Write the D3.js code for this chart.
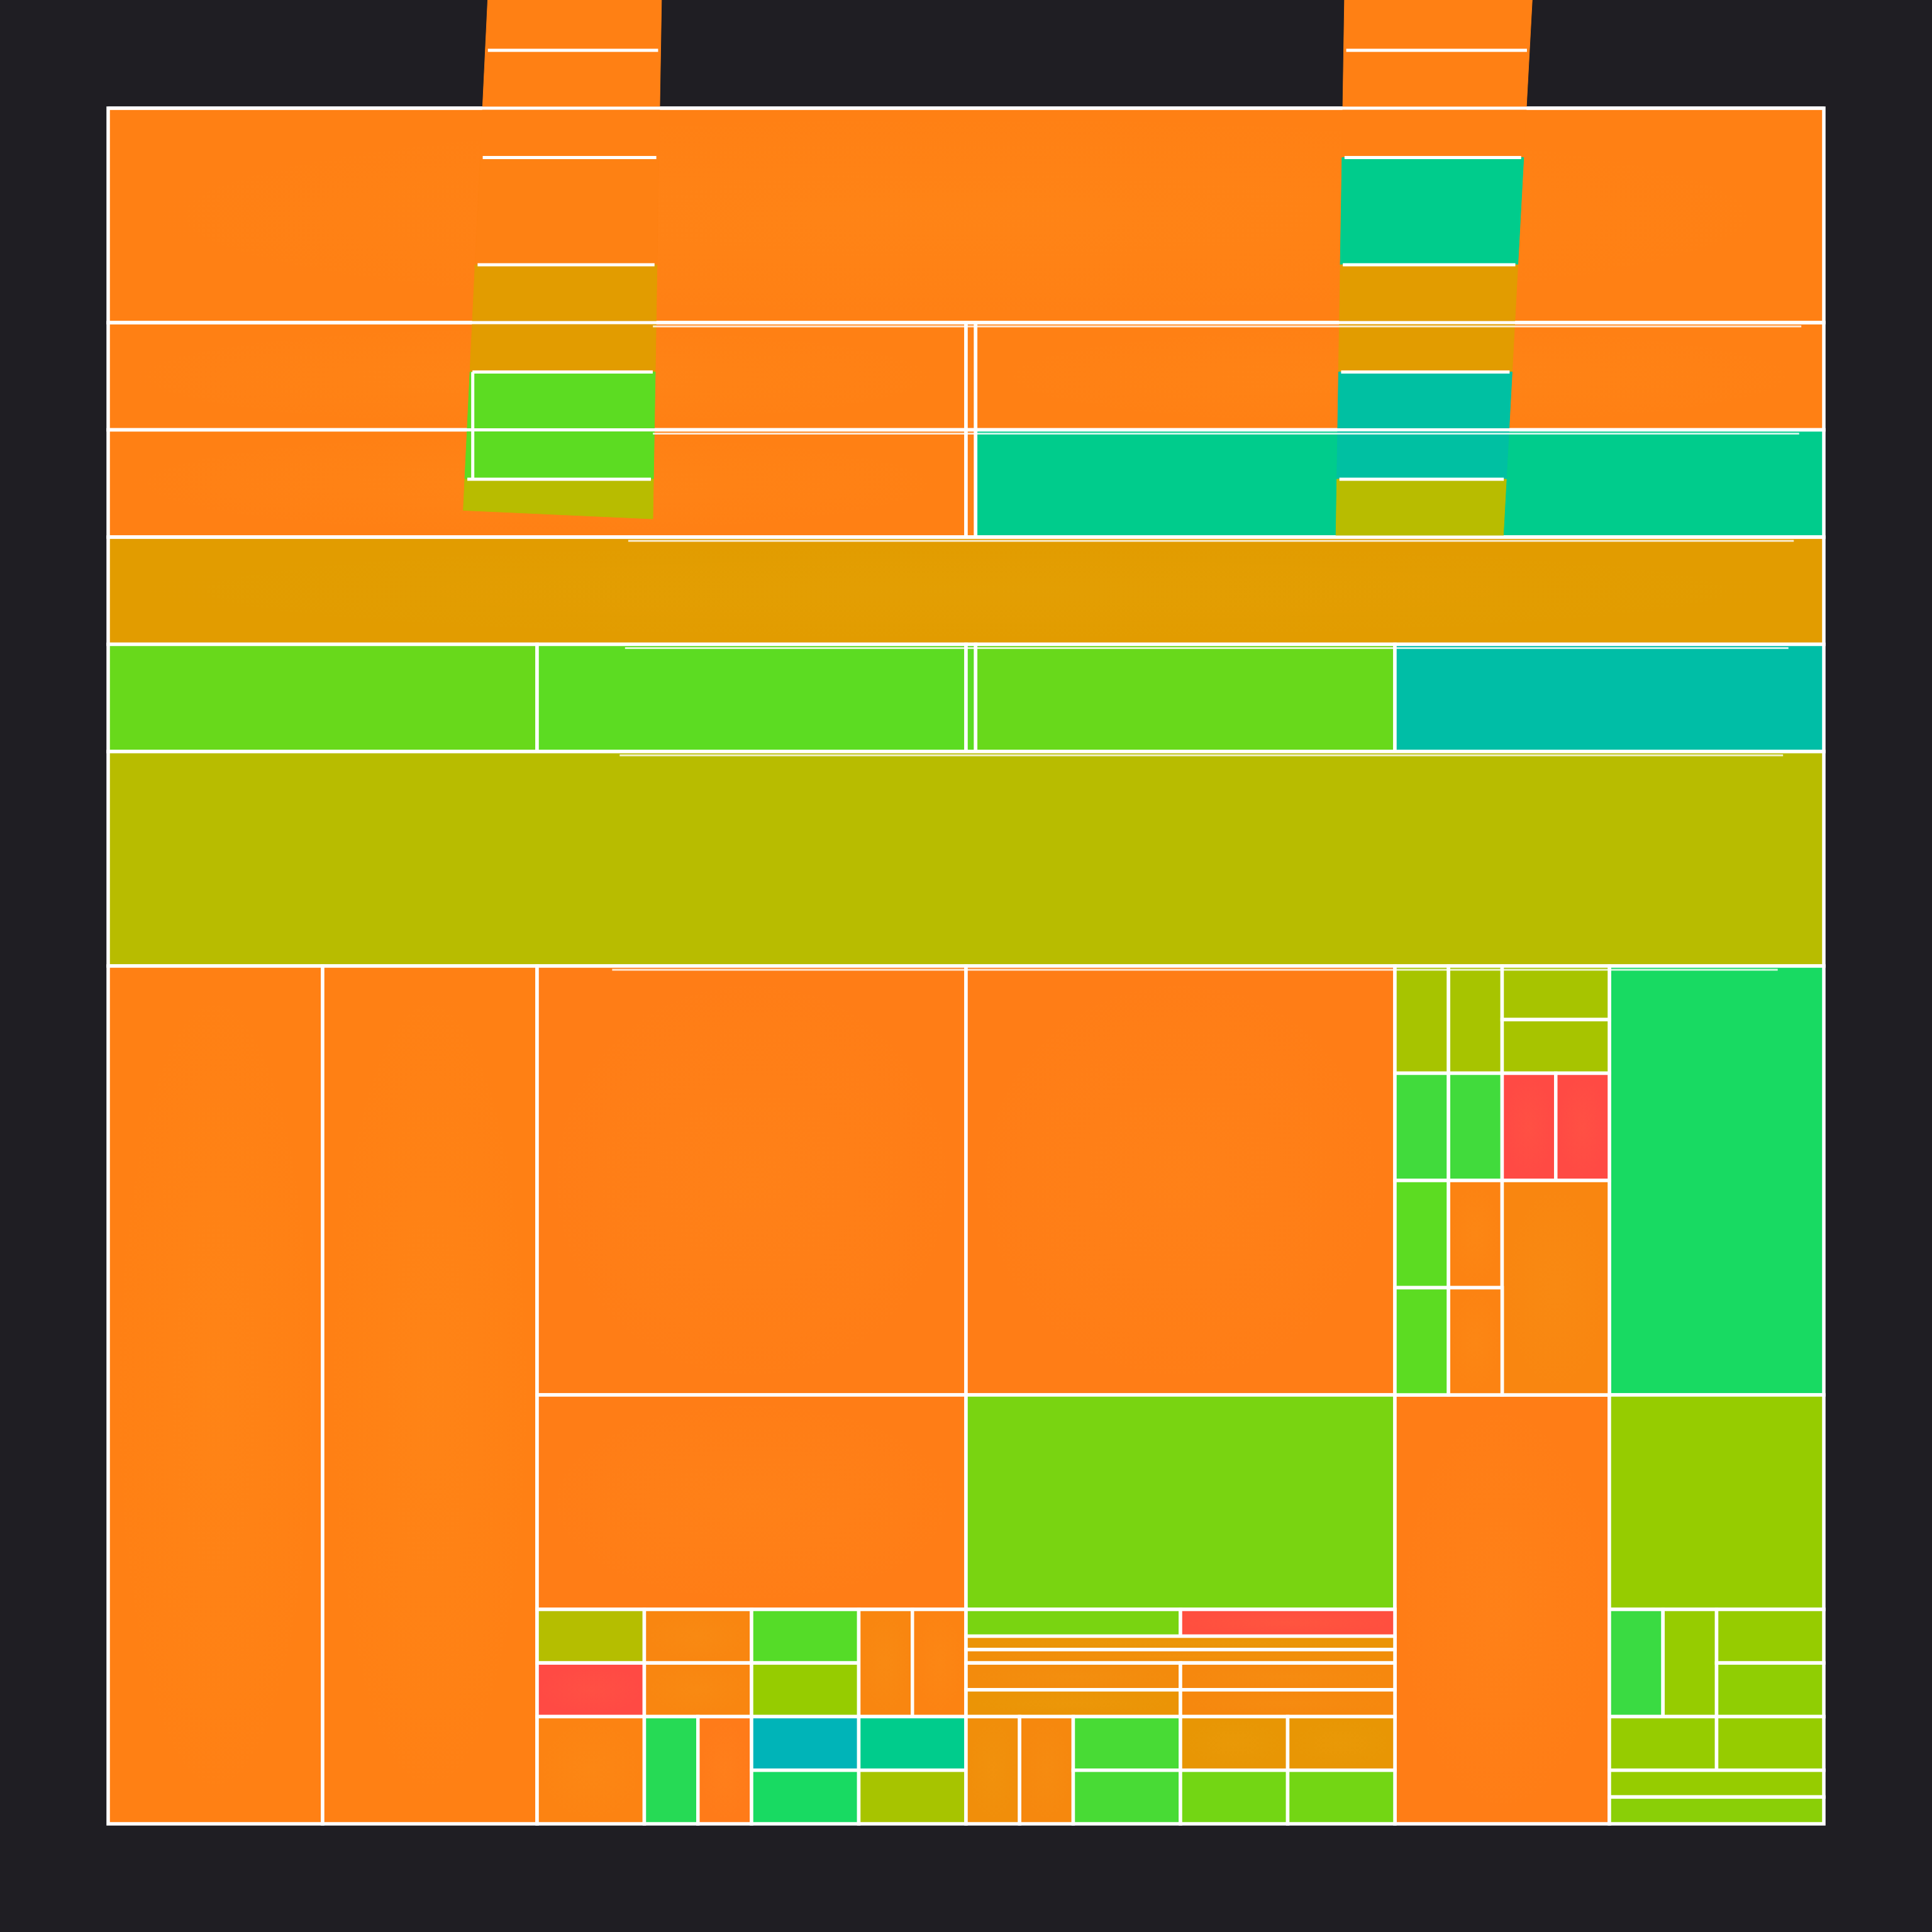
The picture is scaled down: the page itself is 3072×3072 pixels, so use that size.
<!DOCTYPE html>
<html>
<head>
<meta charset="utf-8">
<script src="https://cdn.jsdelivr.net/npm/d3@7"></script>
<style>
  html, body { margin: 0; padding: 0; background: #1f1e23; }
</style>
</head>
<body>
<svg id="chart"></svg>
<script>
// cells are [x0, y0, x1, y1, score] in grid units (16 x 16), score drives the colour
var topRows = [
  [0, 0, 16, 2, 1.0],
  [0, 2, 8, 3, 1.0],
  [8, 2, 8.09, 3, 1.0],
  [8.09, 2, 16, 3, 1.0],
  [0, 3, 8, 4, 1.0],
  [8, 3, 8.09, 4, 1.0],
  [8.09, 3, 16, 4, 7.0],
  [0, 4, 16, 5, 2.0],
  [0, 5, 4, 6, 4.8],
  [4, 5, 8, 6, 5.0],
  [8, 5, 8.09, 6, 5.0],
  [8.09, 5, 12, 6, 4.8],
  [12, 5, 16, 6, 7.6],
  [0, 6, 16, 8, 3.0]
];

var bottomBlocks = [
  [0, 8, 2, 16, 1.0],
  [2, 8, 4, 16, 1.0],
  [4, 8, 8, 12, 0.95],
  [8, 8, 12, 12, 0.95],
  [4, 12, 8, 14, 0.95],
  [8, 12, 12, 14, 4.5],
  [12, 12, 14, 16, 0.95],
  [14, 8, 16, 12, 6.0],
  [14, 12, 16, 14, 4.0]
];

var clusterA = [
  [12, 8, 12.5, 9, 3.5],
  [12.5, 8, 13, 9, 3.5],
  [13, 8, 14, 8.5, 3.5],
  [13, 8.5, 14, 9, 3.5],
  [12, 9, 12.5, 10, 5.4],
  [12.5, 9, 13, 10, 5.4],
  [13, 9, 13.5, 10, 0.0],
  [13.5, 9, 14, 10, 0.0],
  [12, 10, 12.5, 11, 5.0],
  [12.5, 10, 13, 11, 1.1],
  [13, 10, 14, 12, 1.2],
  [12, 11, 12.5, 12, 5.0],
  [12.5, 11, 13, 12, 1.1]
];

var clusterB = [
  [4, 14, 5, 14.5, 3.1],
  [4, 14.5, 5, 15, 0.0],
  [5, 14, 6, 14.5, 1.2],
  [5, 14.5, 6, 15, 1.2],
  [6, 14, 7, 14.5, 5.1],
  [6, 14.5, 7, 15, 4.0],
  [7, 14, 7.5, 15, 1.2],
  [7.5, 14, 8, 15, 1.1],
  [4, 15, 5, 16, 1.1],
  [5, 15, 5.5, 16, 5.8],
  [5.5, 15, 6, 16, 0.9],
  [6, 15, 7, 15.5, 8.0],
  [7, 15, 8, 15.5, 7.0],
  [6, 15.5, 7, 16, 6.0],
  [7, 15.5, 8, 16, 3.5]
];

var clusterC = [
  [8, 14, 10, 14.25, 4.5],
  [10, 14, 12, 14.25, 0.1],
  [8, 14.25, 12, 14.375, 1.7],
  [8, 14.375, 12, 14.5, 1.5],
  [8, 14.5, 10, 14.75, 1.4],
  [10, 14.5, 12, 14.75, 1.3],
  [8, 14.75, 10, 15, 1.7],
  [10, 14.75, 12, 15, 1.3],
  [8, 15, 8.5, 16, 1.5],
  [8.5, 15, 9, 16, 1.3],
  [9, 15, 10, 15.5, 5.3],
  [9, 15.5, 10, 16, 5.3],
  [10, 15, 11, 15.5, 1.8],
  [11, 15, 12, 15.5, 1.8],
  [10, 15.5, 11, 16, 4.6],
  [11, 15.5, 12, 16, 4.6]
];

var clusterD = [
  [14, 14, 14.5, 15, 5.5],
  [14.5, 14, 15, 15, 4.0],
  [15, 14, 16, 14.5, 4.0],
  [15, 14.5, 16, 15, 4.1],
  [14, 15, 15, 15.5, 4.0],
  [15, 15, 16, 15.5, 4.0],
  [14, 15.5, 16, 15.75, 4.0],
  [14, 15.75, 16, 16, 4.2]
];

// displaced strips: bands [y0, y1, score], last band ends at the strip bottom
var leftStripBands = [
  [-1.1, -0.54, 1.0],
  [-0.54, 0.46, 1.0],
  [0.46, 1.46, 1.05],
  [1.46, 2.46, 2.0],
  [2.46, 3.46, 5.0],
  [3.46, null, 3.0]
];
var rightStripBands = [
  [-1.1, -0.54, 1.0],
  [-0.54, 0.46, 1.0],
  [0.46, 1.46, 7.0],
  [1.46, 2.46, 2.0],
  [2.46, 3.46, 7.5],
  [3.46, null, 3.0]
];

// faint offset copies of grid lines: [y, x0, x1]
var ghostLines = [
  [2.035, 5.08, 15.79],
  [3.035, 5.08, 15.77],
  [4.035, 4.85, 15.72],
  [5.035, 4.82, 15.67],
  [6.035, 4.77, 15.62],
  [8.035, 4.70, 15.57]
];

var scoreStops = [0, 1, 2, 3, 4, 5, 6, 7, 8];
var colourStops = ["#ff4a44", "#ff8014", "#e29c00", "#b8bc00", "#96cc00",
                   "#5cdc22", "#18da62", "#00cc8c", "#00b4b8"];

var W = 3072, H = 3072;
var svg = d3.select("#chart").attr("width", W).attr("height", H);

svg.append("rect").attr("width", W).attr("height", H).attr("fill", "#1f1e23");

var x = d3.scaleLinear().domain([0, 16]).range([172, 2900]);
var y = d3.scaleLinear().domain([0, 16]).range([172, 2900]);
var colour = d3.scaleLinear().domain(scoreStops).range(colourStops).interpolate(d3.interpolateRgb);

var defs = svg.append("defs");
var glow = defs.append("radialGradient").attr("id", "glow");
glow.append("stop").attr("offset", "0%").attr("stop-color", "#ffd040").attr("stop-opacity", 0.045);
glow.append("stop").attr("offset", "100%").attr("stop-color", "#ffd040").attr("stop-opacity", 0);

var allCells = [].concat(topRows, bottomBlocks, clusterA, clusterB, clusterC, clusterD);

var cellG = svg.append("g");
cellG.selectAll("rect.cell")
  .data(allCells)
  .enter().append("rect")
  .attr("class", "cell")
  .attr("x", function(d) { return x(d[0]); })
  .attr("y", function(d) { return y(d[1]); })
  .attr("width", function(d) { return x(d[2]) - x(d[0]); })
  .attr("height", function(d) { return y(d[3]) - y(d[1]); })
  .attr("fill", function(d) { return colour(d[4]); })
  .attr("stroke", "#ffffff")
  .attr("stroke-width", 5.5);

// only the warm cells carry the soft centre glow
cellG.selectAll("rect.glow")
  .data(allCells.filter(function(d) { return d[4] < 2.5; }))
  .enter().append("rect")
  .attr("class", "glow")
  .attr("x", function(d) { return x(d[0]) + 3; })
  .attr("y", function(d) { return y(d[1]) + 3; })
  .attr("width", function(d) { return Math.max(0, x(d[2]) - x(d[0]) - 6); })
  .attr("height", function(d) { return Math.max(0, y(d[3]) - y(d[1]) - 6); })
  .attr("fill", "url(#glow)");

// strip geometry (grid units): edges lean slightly, not parallel
function makeStrip(bands, geo) {
  var g = svg.append("g");
  function xl(yy) { return geo.lt + (geo.lb - geo.lt) * (yy - geo.top) / (geo.bot - geo.top); }
  function xr(yy) { return geo.rt + (geo.rb - geo.rt) * (yy - geo.top) / (geo.bot - geo.top); }
  var line = d3.line().x(function(p) { return x(p[0]); }).y(function(p) { return y(p[1]); });
  g.selectAll("path.band")
    .data(bands)
    .enter().append("path")
    .attr("class", "band")
    .attr("d", function(d) {
      var y0 = d[0];
      var y1l = d[1] === null ? geo.botL : d[1];
      var y1r = d[1] === null ? geo.botR : d[1];
      return line([[xl(y0), y0], [xr(y0), y0], [xr(y1r), y1r], [xl(y1l), y1l]]) + "Z";
    })
    .attr("fill", function(d) { return colour(d[2]); })
    .attr("stroke", function(d) { return colour(d[2]); })
    .attr("stroke-width", 1);
  g.selectAll("line.sep")
    .data(bands.slice(1))
    .enter().append("line")
    .attr("class", "sep")
    .attr("x1", function(d) { return x(xl(d[0])) + 4; })
    .attr("x2", function(d) { return x(xr(d[0])) - 4; })
    .attr("y1", function(d) { return y(d[0]); })
    .attr("y2", function(d) { return y(d[0]); })
    .attr("stroke", "#ffffff")
    .attr("stroke-width", 5);
  return g;
}

var leftStrip = makeStrip(leftStripBands,
  {top: -1.01, bot: 3.79, lt: 3.54, lb: 3.31, rt: 5.16, rb: 5.08, botL: 3.75, botR: 3.83});
// white edge inside the green band
leftStrip.append("line")
  .attr("x1", x(3.40)).attr("x2", x(3.40))
  .attr("y1", y(2.46)).attr("y2", y(3.46))
  .attr("stroke", "#ffffff").attr("stroke-width", 5);

makeStrip(rightStripBands,
  {top: -1.01, bot: 4.0, lt: 11.53, lb: 11.45, rt: 13.28, rb: 13.01, botL: 4.0, botR: 4.0});

// main grid lines that run across the strips
var overRows = [0, 2, 3, 4];
svg.append("g").selectAll("line")
  .data(overRows)
  .enter().append("line")
  .attr("x1", x(0)).attr("x2", x(16))
  .attr("y1", function(d) { return y(d); })
  .attr("y2", function(d) { return y(d); })
  .attr("stroke", "#ffffff")
  .attr("stroke-width", 5);

svg.append("g").selectAll("line")
  .data(ghostLines)
  .enter().append("line")
  .attr("x1", function(d) { return x(d[1]); })
  .attr("x2", function(d) { return x(d[2]); })
  .attr("y1", function(d) { return y(d[0]); })
  .attr("y2", function(d) { return y(d[0]); })
  .attr("stroke", "#ffffff")
  .attr("stroke-opacity", 0.8)
  .attr("stroke-width", 3);
</script>
</body>
</html>
